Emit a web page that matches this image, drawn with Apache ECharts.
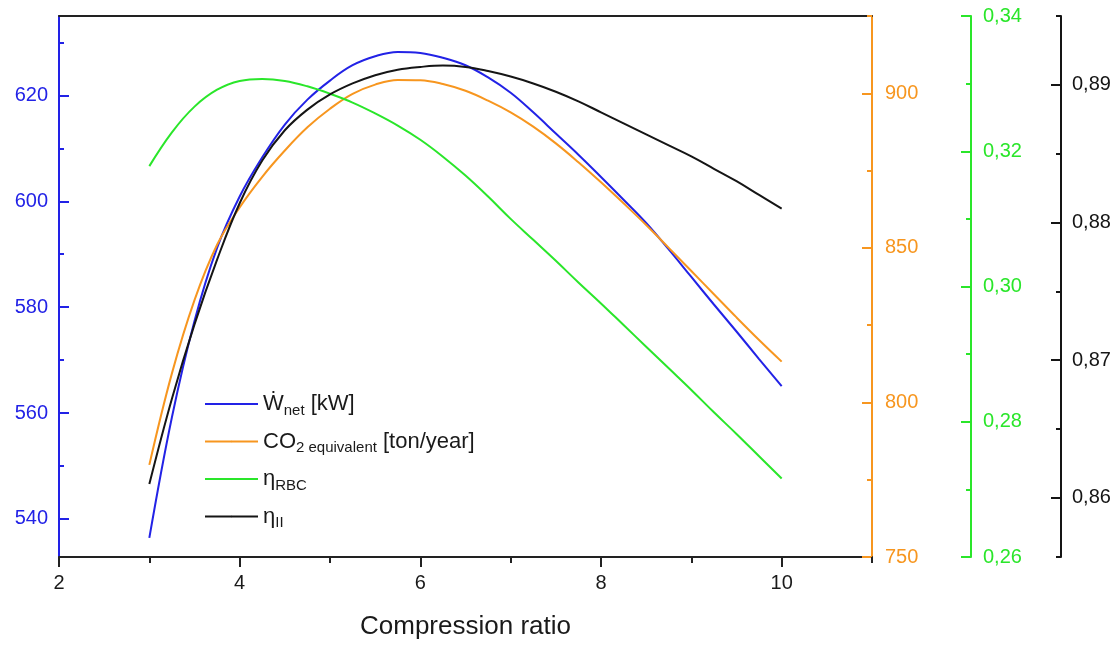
<!DOCTYPE html>
<html>
<head>
<meta charset="utf-8">
<title>Compression ratio study</title>
<script src="https://cdn.jsdelivr.net/npm/echarts@6/dist/echarts.min.js"></script>
<style>
  html, body { margin: 0; padding: 0; background: #fff; }
  #chart { width: 1119px; height: 645px; }
</style>
</head>
<body>
<div id="chart"></div>
<script>
// Compression ratio (x) samples
const compressionRatio = [3, 3.25, 3.5, 3.75, 4, 4.25, 4.5, 4.75, 5, 5.25, 5.5, 5.75, 6, 6.25, 6.5, 6.75, 7, 7.25, 7.5, 7.75, 8, 8.25, 8.5, 8.75, 9, 9.25, 9.5, 9.75, 10];
// Net power output [kW]
const wNet = [536.4, 559.2, 577.4, 591.2, 600.9, 608.3, 614.5, 619.2, 622.8, 625.7, 627.4, 628.2, 628.0, 627.1, 625.7, 623.4, 620.5, 616.8, 612.8, 608.8, 604.6, 600.3, 595.9, 590.9, 585.7, 580.5, 575.4, 570.2, 565.1];
// CO2 equivalent [ton/year]
const co2Equivalent = [779.8, 809.4, 833.1, 851.0, 863.1, 873.0, 881.5, 889.0, 895.0, 899.8, 902.8, 904.3, 904.2, 903.0, 900.8, 897.6, 893.8, 889.2, 883.8, 877.7, 871.2, 864.4, 857.4, 850.0, 842.5, 835.0, 827.5, 820.2, 813.2];
// First-law efficiency of the RBC
const etaRBC = [0.3178, 0.3228, 0.3266, 0.3291, 0.3304, 0.3307, 0.3304, 0.3296, 0.3285, 0.3272, 0.3256, 0.3238, 0.3217, 0.3192, 0.3164, 0.3133, 0.3100, 0.3069, 0.3038, 0.3006, 0.2975, 0.2943, 0.2911, 0.2879, 0.2847, 0.2814, 0.2782, 0.2749, 0.2716];
// Second-law efficiency
const etaII = [0.8610, 0.8672, 0.8726, 0.8773, 0.8814, 0.8845, 0.8867, 0.8882, 0.8893, 0.8901, 0.8907, 0.8911, 0.8913, 0.8914, 0.8913, 0.8910, 0.8906, 0.8901, 0.8895, 0.8888, 0.8880, 0.8872, 0.8864, 0.8856, 0.8848, 0.8839, 0.8830, 0.8820, 0.8810];

// Tick positions per axis
const xMajorTicks = [2, 4, 6, 8, 10];
const xMinorTicks = [3, 5, 7, 9, 11];
const wMajorTicks = [540, 560, 580, 600, 620];
const wMinorTicks = [550, 570, 590, 610, 630];
const co2MajorTicks = [750, 800, 850, 900];
const co2MinorTicks = [775, 825, 875, 925];
const rbcMajorTicks = [0.26, 0.28, 0.30, 0.32, 0.34];
const rbcMinorTicks = [0.27, 0.29, 0.31, 0.33];
const iiMajorTicks = [0.86, 0.87, 0.88, 0.89];
const iiMinorTicks = [0.8557, 0.865, 0.875, 0.885, 0.895];

const BLUE = '#2222e6';
const ORANGE = '#f7961f';
const GREEN = '#2ae62a';
const BLACK = '#151515';
const FONT = 'Liberation Sans, Arial, sans-serif';

const pairs = (ys) => compressionRatio.map((x, i) => [x, ys[i]]);
const comma = (v) => v.toFixed(2).replace('.', ',');

function valueAxis(opts) {
  // visible axis: line, major ticks and labels
  return {
    type: 'value',
    position: opts.position,
    offset: opts.offset || 0,
    min: opts.min,
    max: opts.max,
    splitLine: { show: false },
    axisLine: { show: true, onZero: false, lineStyle: { color: opts.color, width: 2 } },
    axisTick: { show: true, inside: true, length: 10, customValues: opts.major, lineStyle: { color: opts.color, width: 2 } },
    axisLabel: {
      show: true, customValues: opts.major, margin: opts.margin,
      color: opts.color, fontSize: 20, fontFamily: FONT,
      formatter: opts.formatter
    }
  };
}
function minorAxis(opts) {
  // companion axis carrying only the short ticks
  return {
    type: 'value',
    position: opts.position,
    offset: opts.offset || 0,
    min: opts.min,
    max: opts.max,
    splitLine: { show: false },
    axisLine: { show: false, onZero: false },
    axisLabel: { show: false },
    axisTick: { show: true, inside: true, length: 5, customValues: opts.minor, lineStyle: { color: opts.color, width: 2 } }
  };
}

const axesSpec = [
  { position: 'left', offset: 0, min: 532.8, max: 635, color: BLUE, major: wMajorTicks, minor: wMinorTicks, margin: 11, formatter: (v) => String(v) },
  { position: 'right', offset: 0, min: 750, max: 925, color: ORANGE, major: co2MajorTicks, minor: co2MinorTicks, margin: 13, formatter: (v) => String(v) },
  { position: 'right', offset: 99, min: 0.26, max: 0.34, color: GREEN, major: rbcMajorTicks, minor: rbcMinorTicks, margin: 12, formatter: comma },
  { position: 'right', offset: 189, min: 0.8557, max: 0.895, color: BLACK, major: iiMajorTicks, minor: iiMinorTicks, margin: 11, formatter: comma }
];
const yAxes = [];
axesSpec.forEach((a) => { yAxes.push(valueAxis(a)); yAxes.push(minorAxis(a)); });

const seriesSpec = [
  { name: 'wnet', data: wNet, color: BLUE, axis: 0 },
  { name: 'co2', data: co2Equivalent, color: ORANGE, axis: 2 },
  { name: 'rbc', data: etaRBC, color: GREEN, axis: 4 },
  { name: 'ii', data: etaII, color: BLACK, axis: 6 }
];

const legendText = {
  wnet: '{m|Ẇ}{s|net}{m| [kW]}',
  co2: '{m|CO}{s|2 equivalent}{m| [ton/year]}',
  rbc: '{m|η}{s|RBC}',
  ii: '{m|η}{s|II}'
};
const legendRows = ['wnet', 'co2', 'rbc', 'ii'];

const chart = echarts.init(document.getElementById('chart'), null, { renderer: 'canvas' });
chart.setOption({
  animation: false,
  backgroundColor: '#ffffff',
  grid: { left: 59, right: 247, top: 16, bottom: 85, containLabel: false },
  xAxis: [
    {
      type: 'value', position: 'bottom', min: 2, max: 11,
      name: 'Compression ratio', nameLocation: 'middle', nameGap: 57,
      nameTextStyle: { fontSize: 26, color: '#1a1a1a', fontFamily: FONT },
      splitLine: { show: false },
      axisLine: { onZero: false, lineStyle: { color: '#222', width: 2 } },
      axisTick: { inside: false, length: 10, customValues: xMajorTicks, lineStyle: { color: '#222', width: 2 } },
      axisLabel: { customValues: xMajorTicks, margin: 16, fontSize: 20, color: '#1a1a1a', fontFamily: FONT }
    },
    {
      type: 'value', position: 'bottom', min: 2, max: 11,
      splitLine: { show: false },
      axisLine: { show: false, onZero: false },
      axisLabel: { show: false },
      axisTick: { inside: false, length: 6, customValues: xMinorTicks, lineStyle: { color: '#222', width: 2 } }
    },
    {
      type: 'value', position: 'top', min: 2, max: 11,
      splitLine: { show: false },
      axisLine: { onZero: false, lineStyle: { color: '#222', width: 2 } },
      axisTick: { show: false },
      axisLabel: { show: false }
    }
  ],
  yAxis: yAxes,
  legend: legendRows.map((key, i) => ({
    data: [key],
    left: 204,
    top: 393 + i * 37.5,
    orient: 'vertical',
    itemWidth: 53,
    itemHeight: 2,
    itemGap: 0,
    padding: 0,
    formatter: (name) => legendText[name],
    textStyle: {
      color: '#1a1a1a',
      fontFamily: FONT,
      rich: {
        m: { fontSize: 22, fontFamily: FONT, color: '#1a1a1a', lineHeight: 28, verticalAlign: 'middle' },
        s: { fontSize: 15, fontFamily: FONT, color: '#1a1a1a', lineHeight: 15, verticalAlign: 'bottom' }
      }
    }
  })),
  series: seriesSpec.map((s) => ({
    name: s.name,
    type: 'line',
    yAxisIndex: s.axis,
    xAxisIndex: 0,
    data: pairs(s.data),
    smooth: 0.4,
    symbol: 'none',
    lineStyle: { color: s.color, width: 2 },
    itemStyle: { color: s.color }
  }))
});
</script>
</body>
</html>
